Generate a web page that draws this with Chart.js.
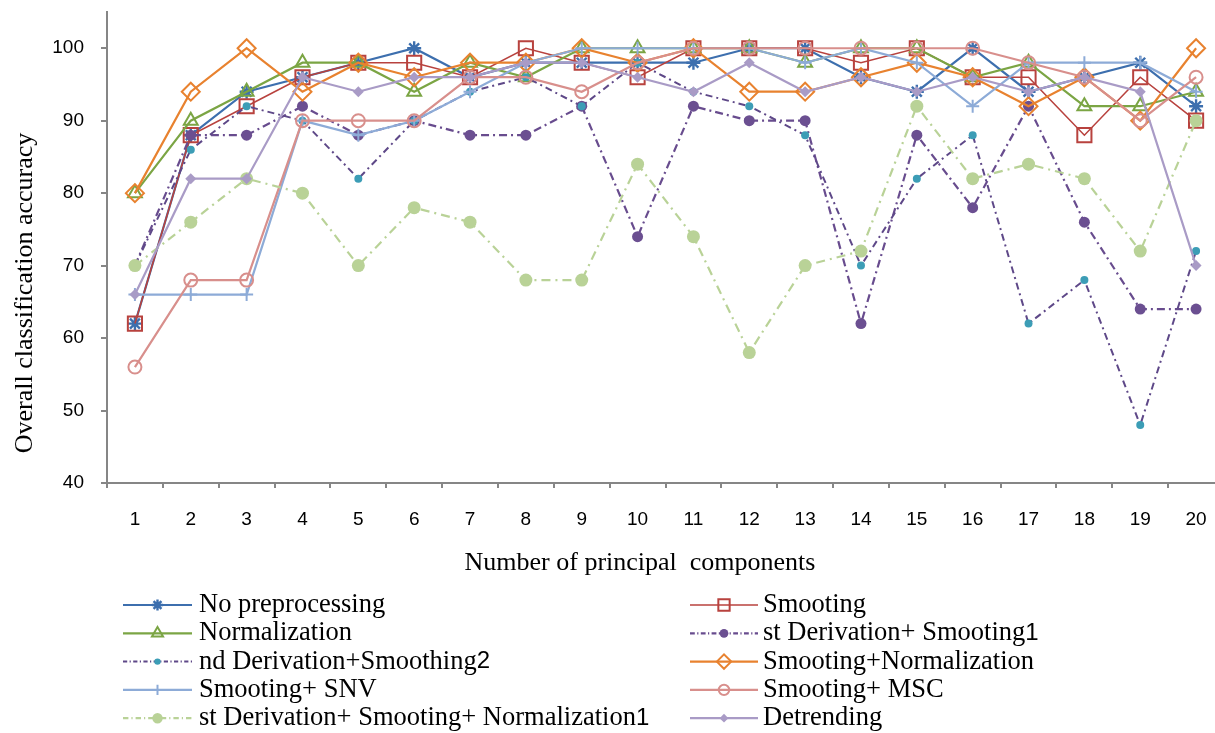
<!DOCTYPE html>
<html>
<head>
<meta charset="utf-8">
<title>Overall classification accuracy</title>
<script src="https://cdn.jsdelivr.net/npm/chart.js@4.4.1/dist/chart.umd.min.js"></script>
<style>
  html, body { margin: 0; padding: 0; background: #fff; overflow: hidden; }
  #wrap { width: 1236px; height: 733px; }
</style>
</head>
<body>
<div id="wrap"><canvas id="accuracyChart" width="1236" height="733"></canvas></div>
<script>
// x categories and y ticks
const components = ['1', '2', '3', '4', '5', '6', '7', '8', '9', '10',
                    '11', '12', '13', '14', '15', '16', '17', '18', '19', '20'];
const yTicks = [40, 50, 60, 70, 80, 90, 100];

// values
const noPreprocessing   = [62, 88, 94, 96, 98, 100, 96, 98, 98, 98, 98, 100, 100, 96, 94, 100, 94, 96, 98, 92];
const smooting          = [62, 88, 92, 96, 98, 98, 96, 100, 98, 96, 100, 100, 100, 98, 100, 96, 96, 88, 96, 90];
const normalization     = [80, 90, 94, 98, 98, 94, 98, 96, 100, 100, 100, 100, 98, 100, 100, 96, 98, 92, 92, 94];
const deriv1Smooth      = [70, 88, 88, 92, 88, 90, 88, 88, 92, 74, 92, 90, 90, 62, 88, 78, 92, 76, 64, 64];
const deriv2Smooth      = [70, 86, 92, 90, 82, 90, 94, 96, 92, 98, 94, 92, 88, 70, 82, 88, 62, 68, 48, 72];
const smoothNorm        = [80, 94, 100, 94, 98, 96, 98, 98, 100, 98, 100, 94, 94, 96, 98, 96, 92, 96, 90, 100];
const smoothSnv         = [66, 66, 66, 90, 88, 90, 94, 98, 100, 100, 100, 100, 98, 100, 98, 92, 98, 98, 98, 94];
const smoothMsc         = [56, 68, 68, 90, 90, 90, 96, 96, 94, 98, 100, 100, 100, 100, 100, 100, 98, 96, 90, 96];
const deriv1SmoothNorm  = [70, 76, 82, 80, 70, 78, 76, 68, 68, 84, 74, 58, 70, 72, 92, 82, 84, 82, 72, 90];
const detrending        = [66, 82, 82, 96, 94, 96, 96, 98, 98, 96, 94, 98, 94, 96, 94, 96, 94, 96, 94, 70];

const xTitle = 'Number of principal  components';
const yTitle = 'Overall classification accuracy';

const axisGrey = '#868686';
const serif = '"Liberation Serif", "Times New Roman", serif';
const sans = '"Liberation Sans", Arial, sans-serif';
const clear = 'rgba(0,0,0,0)';

function series(label, data, color, opts) {
  return Object.assign({
    label: label,
    data: data,
    borderColor: color,
    borderWidth: 2.2,
    pointBorderColor: color,
    pointBackgroundColor: clear,
    pointBorderWidth: 2,
    pointHoverRadius: 0,
    tension: 0,
    fill: false,
    clip: false
  }, opts);
}

const datasets = [
  series('No preprocessing', noPreprocessing, '#3D6FAE', { pointStyle: 'star', pointRadius: 7, pointBorderWidth: 2.4 }),
  series('Smooting', smooting, '#B8423E', { pointStyle: 'rect', pointRadius: 10, borderWidth: 1.6 }),
  series('Normalization', normalization, '#7BA544', { pointStyle: 'triangle', pointRadius: 8 }),
  series('st Derivation+ Smooting1', deriv1Smooth, '#684C8E', {
    pointStyle: 'circle', pointRadius: 5.5, pointBackgroundColor: '#6B4F91', pointBorderWidth: 0,
    borderDash: [8, 4, 2, 4]
  }),
  series('nd Derivation+Smoothing2', deriv2Smooth, '#5E4888', {
    pointStyle: 'circle', pointRadius: 4, pointBackgroundColor: '#3C9DB6', pointBorderColor: '#3C9DB6',
    pointBorderWidth: 0, borderWidth: 2, borderDash: [7, 4, 2, 4]
  }),
  series('Smooting+Normalization', smoothNorm, '#E8822F', { pointStyle: 'rectRot', pointRadius: 9 }),
  series('Smooting+ SNV', smoothSnv, '#8DABD7', { pointStyle: 'cross', pointRadius: 6.5 }),
  series('Smooting+ MSC', smoothMsc, '#D88F8C', { pointStyle: 'circle', pointRadius: 6.5 }),
  series('st Derivation+ Smooting+ Normalization1', deriv1SmoothNorm, '#B9D297', {
    pointStyle: 'circle', pointRadius: 6.5, pointBackgroundColor: '#B9D297', pointBorderWidth: 0,
    borderDash: [9, 5, 2, 5]
  }),
  series('Detrending', detrending, '#A99BC6', {
    pointStyle: 'rectRot', pointRadius: 5.5, pointBackgroundColor: '#A99BC6', pointBorderWidth: 0
  })
];

// later series sit on top, like the original
datasets.forEach((ds, i) => { ds.order = datasets.length - i; });

// the trailing 1 / 2 in the source legend is set in a sans face
function drawLabel(ctx, text, x, y) {
  const m = text.match(/^(.*?)(\d)$/);
  ctx.font = '26.5px ' + serif;
  if (!m) { ctx.fillText(text, x, y); return; }
  ctx.fillText(m[1], x, y);
  const w = ctx.measureText(m[1]).width;
  ctx.font = '24px ' + sans;
  ctx.fillText(m[2], x + w, y);
}

// titles and the two-column legend underneath
const paperText = {
  id: 'paperText',
  afterDraw(chart) {
    const ctx = chart.ctx;
    ctx.save();
    ctx.fillStyle = '#000';
    ctx.font = '26px ' + serif;
    ctx.textAlign = 'center';
    ctx.textBaseline = 'middle';
    ctx.fillText(xTitle, 640, 563);
    ctx.translate(25, 293);
    ctx.rotate(-Math.PI / 2);
    ctx.fillText(yTitle, 0, 0);
    ctx.restore();

    const drawPoint = Chart.helpers && Chart.helpers.drawPoint;
    chart.data.datasets.forEach((ds, i) => {
      const col = i % 2;
      const row = Math.floor(i / 2);
      const x0 = col ? 690 : 123;
      const x1 = col ? 758 : 192;
      const y = 605 + row * 28.3;
      ctx.save();
      ctx.strokeStyle = ds.borderColor;
      ctx.lineWidth = ds.borderWidth;
      ctx.setLineDash(ds.borderDash ? ds.borderDash.map(v => v * 0.6) : []);
      ctx.beginPath();
      ctx.moveTo(x0, y);
      ctx.lineTo(x1, y);
      ctx.stroke();
      ctx.setLineDash([]);
      if (drawPoint) {
        ctx.fillStyle = ds.pointBackgroundColor;
        ctx.strokeStyle = ds.pointBorderColor;
        ctx.lineWidth = ds.pointBorderWidth;
        drawPoint(ctx, {
          pointStyle: ds.pointStyle,
          radius: ds.pointRadius * 0.8,
          rotation: 0,
          borderWidth: ds.pointBorderWidth
        }, (x0 + x1) / 2, y);
      }
      ctx.fillStyle = '#000';
      ctx.textAlign = 'left';
      ctx.textBaseline = 'middle';
      drawLabel(ctx, ds.label, col ? 763 : 199, y);
      ctx.restore();
    });
  }
};

new Chart(document.getElementById('accuracyChart'), {
  type: 'line',
  data: { labels: components, datasets: datasets },
  plugins: [paperText],
  options: {
    responsive: false,
    animation: false,
    devicePixelRatio: 1,
    layout: { padding: { top: 11, right: 6, left: 0, bottom: 0 } },
    plugins: {
      legend: { display: false },
      tooltip: { enabled: false }
    },
    scales: {
      x: {
        type: 'category',
        offset: true,
        grid: { offset: true, drawOnChartArea: false, tickLength: 5, color: axisGrey, lineWidth: 2 },
        border: { display: true, color: axisGrey, width: 2 },
        ticks: {
          color: '#000',
          font: { family: sans, size: 19 },
          padding: 20,
          maxRotation: 0,
          autoSkip: false
        },
        afterFit(scale) {
          scale.height = 250;
          scale.paddingLeft = 0;
          scale.paddingRight = 0;
        }
      },
      y: {
        min: 40,
        max: 105,
        afterBuildTicks(scale) { scale.ticks = yTicks.map(v => ({ value: v })); },
        grid: { drawOnChartArea: false, tickLength: 6, color: axisGrey, lineWidth: 2 },
        border: { display: true, color: axisGrey, width: 2 },
        ticks: {
          color: '#000',
          font: { family: sans, size: 19 },
          padding: 17
        },
        afterFit(scale) {
          scale.width = 107;
          scale.paddingTop = 0;
          scale.paddingBottom = 0;
        }
      }
    }
  }
});
</script>
</body>
</html>
